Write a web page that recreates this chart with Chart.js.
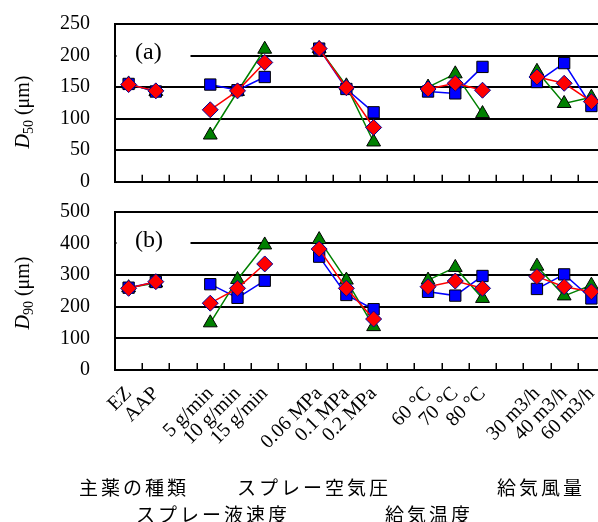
<!DOCTYPE html>
<html><head><meta charset="utf-8">
<script src="https://cdn.jsdelivr.net/npm/chart.js@4"></script>
<style>
html,body{margin:0;padding:0;overflow:hidden;background:#fff;width:598px;height:522px;}
#wrap{position:relative;width:598px;height:522px;overflow:hidden;}
canvas{position:absolute;left:0;}
.yt{position:absolute;font-family:"Liberation Serif";font-size:20px;white-space:nowrap;line-height:1;transform:translate(-50%,-50%) rotate(-90deg);color:#000;}
.yt .s{font-size:14px;position:relative;top:4px;}
.jp{position:absolute;font-family:"Noto Sans CJK JP";font-size:19px;letter-spacing:3px;white-space:nowrap;line-height:1;color:#000;transform:translateY(-50%);}
</style></head><body>
<div id="wrap">
<canvas id="ca" width="606" height="195" style="top:0"></canvas>
<canvas id="cb" width="606" height="280" style="top:195px"></canvas>
<div class="yt" style="left:22px;top:112px"><i>D</i><span class="s">50</span> (μm)</div>
<div class="yt" style="left:22px;top:293px"><i>D</i><span class="s">90</span> (μm)</div>
<div class="jp" style="left:79px;top:486px">主薬の種類</div>
<div class="jp" style="left:237px;top:486px">スプレー空気圧</div>
<div class="jp" style="left:497px;top:486px">給気風量</div>
<div class="jp" style="left:136px;top:513px">スプレー液速度</div>
<div class="jp" style="left:385px;top:513px">給気温度</div>
</div>
<script>
const categories = ['EZ','AAP','','5 g/min','10 g/min','15 g/min','','0.06 MPa','0.1 MPa','0.2 MPa','','60 °C','70 °C','80 °C','','30 m3/h','40 m3/h','60 m3/h'];

const blueD50  = [155,143,null,154,145,166,null,211,147,110,null,143,140,182,null,158,188,120];
const greenD50 = [155,143,null,74,143,210,null,211,152,63,null,150,171,108,null,175,124,134];
const redD50   = [154,144,null,114,144,189,null,211,149,86,null,147,156,145,null,166,156,127];

const blueD90  = [260,278,null,271,228,282,null,358,237,192,null,247,235,297,null,256,302,226];
const greenD90 = [260,275,null,149,286,395,null,412,284,137,null,284,324,226,null,328,234,268];
const redD90   = [258,279,null,211,258,335,null,382,258,161,null,263,281,258,null,295,263,247];

const innerTicks = {
  id:'innerTicks',
  afterDraw(chart){
    const xs=chart.scales.x, ctx=chart.ctx, b=chart.chartArea.bottom;
    ctx.save(); ctx.strokeStyle='#000'; ctx.lineWidth=1.5;
    for(let i=0;i<=categories.length;i++){
      const x=Math.round(xs.getPixelForValue(i-0.5))+0.25;
      ctx.beginPath(); ctx.moveTo(x,b); ctx.lineTo(x,b-7); ctx.stroke();
    }
    ctx.restore();
  }
};
const panelLabel = {
  id:'panelLabel',
  beforeDatasetsDraw(chart, args, opts){
    const ca=chart.chartArea, ctx=chart.ctx;
    ctx.save();
    ctx.fillStyle='#fff'; ctx.fillRect(ca.left+1.5, ca.top+13, 74, 32);
    ctx.fillStyle='#000'; ctx.font='24px "Liberation Serif"';
    ctx.textAlign='left'; ctx.textBaseline='middle';
    ctx.fillText(opts.text, ca.left+20, ca.top+29);
    ctx.restore();
  }
};

function ds(label, data, color, style, radius, pbColor){
  return {label, data, borderColor:color, backgroundColor:color, borderWidth:1.5,
    pointStyle:style, pointRadius:radius, pointHoverRadius:radius,
    pointBackgroundColor:color, pointBorderColor:pbColor, pointBorderWidth:1,
    tension:0, spanGaps:false};
}

function makeChart(id, blue, green, red, yMax, step, showX, padTop, padBottom, xHeight, text){
  return new Chart(document.getElementById(id), {
    type:'line',
    data:{labels:categories, datasets:[
      ds('red', red, '#ff0000', 'rectRot', 8, '#000099'),
      ds('blue', blue, '#0000ff', 'rect', 8, '#000'),
      ds('green', green, '#008000', 'triangle', 8, '#000')
    ]},
    options:{
      responsive:false, animation:false, devicePixelRatio:1,
      layout:{autoPadding:false, padding:{top:padTop, bottom:padBottom, left:0, right:1}},
      plugins:{legend:{display:false}, tooltip:{enabled:false}, panelLabel:{text}},
      scales:{
        x:{
          offset:true,
          grid:{display:false, drawTicks:false, offset:true},
          border:{display:true, color:'#000', width:2},
          ticks:{display:showX, autoSkip:false, minRotation:45, maxRotation:45, padding:12,
            color:'#000', font:{family:'"Liberation Serif"', size:20}},
          afterFit(s){ s.height = xHeight; s.paddingLeft = 0; s.paddingRight = 0; }
        },
        y:{
          min:0, max:yMax,
          grid:{color:'#000', lineWidth:2, drawTicks:true, tickLength:25, tickColor:'rgba(0,0,0,0)'},
          border:{display:true, color:'#000', width:2},
          ticks:{stepSize:step, padding:0, color:'#000', font:{family:'"Liberation Serif"', size:20}},
          afterFit(s){ s.width = 115; s.paddingTop = 0; s.paddingBottom = 0; }
        }
      }
    },
    plugins:[innerTicks, panelLabel]
  });
}

makeChart('ca', blueD50, greenD50, redD50, 250, 50, false, 24, 13.3, 0, '(a)');
makeChart('cb', blueD90, greenD90, redD90, 500, 100, true, 16.7, 0, 105, '(b)');
</script>
</body></html>
